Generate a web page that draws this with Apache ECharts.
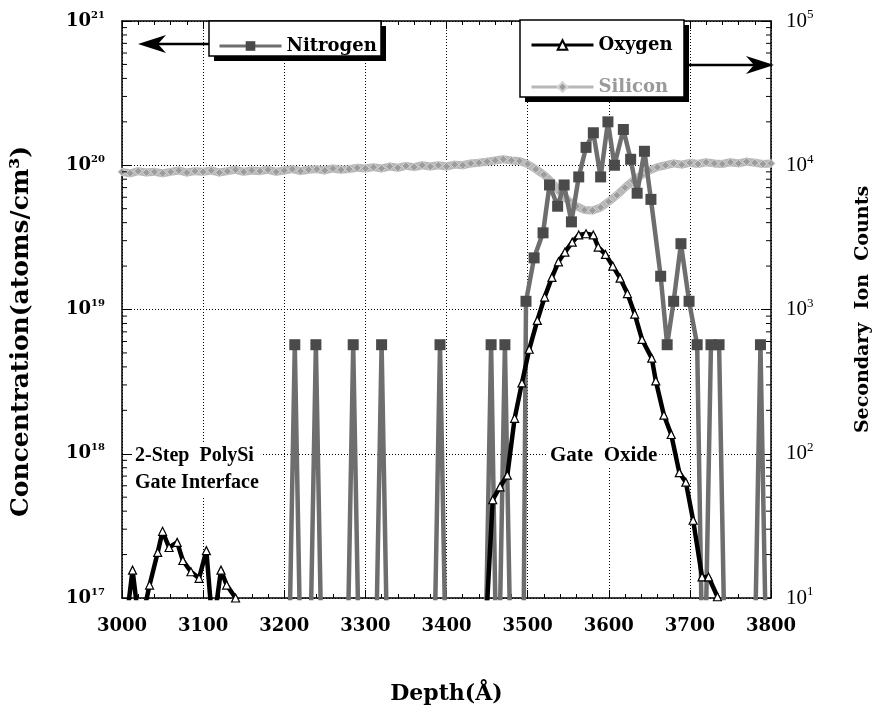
<!DOCTYPE html>
<html>
<head>
<meta charset="utf-8">
<script src="https://cdn.jsdelivr.net/npm/echarts@6/dist/echarts.min.js"></script>
<style>html,body{margin:0;padding:0;background:#fff;}#c{width:881px;height:710px;}</style>
</head>
<body>
<div id="c"></div>
<script>
// ---------- data ----------
const BELOW = 1e16; // below detection (plotted under the axis floor)
const depthTicks = [3000, 3100, 3200, 3300, 3400, 3500, 3600, 3700, 3800];
const concTicks = [1e17, 1e18, 1e19, 1e20, 1e21];
const countTicks = [1e1, 1e2, 1e3, 1e4, 1e5];

const nitrogenDepth = [3204, 3213, 3222, 3230, 3239, 3248, 3276, 3285, 3294, 3311, 3320, 3329,
  3383, 3392, 3401, 3446, 3455, 3463, 3472, 3481, 3494,
  3498, 3508, 3519, 3527, 3537, 3545, 3554, 3563, 3572, 3581, 3590, 3599, 3607, 3618, 3627,
  3635, 3644, 3652, 3664, 3672, 3680, 3689, 3699, 3709,
  3717, 3726, 3736, 3745, 3778, 3787, 3796];
const nitrogenConc = [BELOW, 5.7e18, BELOW, BELOW, 5.7e18, BELOW, BELOW, 5.7e18, BELOW, BELOW, 5.7e18, BELOW,
  BELOW, 5.7e18, BELOW, BELOW, 5.7e18, BELOW, 5.7e18, BELOW, BELOW,
  1.14e19, 2.28e19, 3.4e19, 7.3e19, 5.2e19, 7.3e19, 4.05e19, 8.3e19, 1.33e20, 1.68e20, 8.3e19, 2.0e20, 1.0e20, 1.77e20, 1.1e20,
  6.4e19, 1.25e20, 5.8e19, 1.7e19, 5.7e18, 1.14e19, 2.86e19, 1.14e19, 5.7e18,
  BELOW, 5.7e18, 5.7e18, BELOW, BELOW, 5.7e18, BELOW];

const oxygenDepth = [3004, 3013, 3022, 3034, 3044, 3050, 3058, 3068, 3075, 3085, 3095, 3104, 3112, 3122, 3129, 3140, 3149,
  3441, 3450, 3457, 3466, 3475, 3484, 3493, 3502, 3512, 3521, 3530, 3538, 3546, 3555, 3563, 3572, 3581, 3587,
  3596, 3605, 3614, 3623, 3632, 3641, 3653, 3658, 3668, 3677, 3687, 3695, 3704, 3715, 3723, 3734, 3743];
const oxygenConc = [6e16, 1.56e17, 6e16, 1.23e17, 2.07e17, 2.9e17, 2.24e17, 2.43e17, 1.82e17, 1.52e17, 1.37e17, 2.13e17, 6e16, 1.56e17, 1.23e17, 1.0e17, 6e16,
  3e16, 9e16, 4.8e17, 5.9e17, 7.1e17, 1.76e18, 3.1e18, 5.3e18, 8.4e18, 1.22e19, 1.67e19, 2.14e19, 2.5e19, 2.93e19, 3.29e19, 3.35e19, 3.29e19, 2.71e19,
  2.41e19, 2.0e19, 1.65e19, 1.29e19, 9.3e18, 6.2e18, 4.6e18, 3.2e18, 1.85e18, 1.36e18, 7.4e17, 6.35e17, 3.46e17, 1.4e17, 1.4e17, 1.02e17, 6e16];

const siliconDepth = [3000, 3010, 3020, 3030, 3040, 3050, 3060, 3070, 3080, 3090,
  3100, 3110, 3120, 3130, 3140, 3150, 3160, 3170, 3180, 3190,
  3200, 3210, 3220, 3230, 3240, 3250, 3260, 3270, 3280, 3290,
  3300, 3310, 3320, 3330, 3340, 3350, 3360, 3370, 3380, 3390,
  3400, 3410, 3420, 3430, 3440, 3450, 3460, 3470, 3480, 3490,
  3500, 3510, 3520, 3530, 3540, 3550, 3560, 3570, 3580, 3590,
  3600, 3610, 3620, 3630, 3640, 3650, 3660, 3670, 3680, 3690,
  3700, 3710, 3720, 3730, 3740, 3750, 3760, 3770, 3780, 3790, 3800];
const siliconCounts = [9.0e3, 8.8e3, 9.1e3, 8.9e3, 9.0e3, 8.8e3, 9.0e3, 9.2e3, 8.9e3, 9.1e3,
  9.0e3, 9.2e3, 8.9e3, 9.1e3, 9.3e3, 9.0e3, 9.2e3, 9.1e3, 9.3e3, 9.0e3,
  9.2e3, 9.4e3, 9.1e3, 9.3e3, 9.4e3, 9.2e3, 9.5e3, 9.3e3, 9.4e3, 9.6e3,
  9.5e3, 9.7e3, 9.5e3, 9.8e3, 9.6e3, 9.9e3, 9.7e3, 1.0e4, 9.8e3, 1.0e4,
  9.8e3, 1.01e4, 1.0e4, 1.03e4, 1.04e4, 1.06e4, 1.08e4, 1.1e4, 1.08e4, 1.07e4,
  1.02e4, 9.4e3, 8.6e3, 7.6e3, 6.5e3, 5.7e3, 5.2e3, 4.9e3, 4.85e3, 5.1e3,
  5.6e3, 6.2e3, 7.0e3, 7.8e3, 8.5e3, 9.2e3, 9.7e3, 1.0e4, 1.03e4, 1.01e4,
  1.04e4, 1.02e4, 1.05e4, 1.03e4, 1.02e4, 1.05e4, 1.03e4, 1.06e4, 1.04e4, 1.02e4, 1.03e4];

// ---------- helpers ----------
const zip = (a, b) => a.map((v, i) => [v, b[i]]);
const minorLogVals = [];
for (let i = 0; i < concTicks.length - 1; i++) for (let k = 2; k <= 9; k++) minorLogVals.push(k * concTicks[i]);

const SERIF_B = 'DejaVu Serif';
const chart = echarts.init(document.getElementById('c'), null, {renderer: 'canvas'});
const G = {left: 122, right: 102, top: 21, bottom: 100};

const supLabel = (fam, fs, ss, weight) => ({
  formatter: v => '{b|10}{s|' + Math.round(Math.log10(v)) + '}',
  rich: {
    b: {fontFamily: fam, fontWeight: weight, fontSize: fs, color: '#000', lineHeight: fs + 4},
    s: {fontFamily: fam, fontWeight: weight, fontSize: ss, color: '#000', verticalAlign: 'top', lineHeight: ss + 2}
  }
});

const legendText = {fontFamily: SERIF_B, fontWeight: 'bold', fontSize: 18, color: '#000'};

const option = {
  animation: false,
  backgroundColor: '#fff',
  grid: G,
  legend: [
    {data: [{name: 'Nitrogen', lineStyle: {width: 3}}], left: 213, top: 32, itemWidth: 62, itemHeight: 12, itemGap: 10, z: 60,
      textStyle: legendText, selectedMode: false},
    {data: [{name: 'Oxygen', lineStyle: {width: 3}}, {name: 'Silicon', lineStyle: {width: 3}, textStyle: {color: '#9a9a9a'}}],
      left: 525, top: 31, orient: 'vertical',
      itemWidth: 62, itemHeight: 12, itemGap: 24, z: 60, textStyle: legendText, selectedMode: false}
  ],
  xAxis: [
    {type: 'value', min: depthTicks[0], max: depthTicks[depthTicks.length - 1], interval: 100,
      name: 'Depth(Å)', nameLocation: 'middle', nameGap: 85,
      nameTextStyle: {fontFamily: SERIF_B, fontWeight: 'bold', fontSize: 22, color: '#000'},
      axisLine: {lineStyle: {color: '#000', width: 1.5}},
      axisTick: {inside: true, length: 8, lineStyle: {color: '#000'}},
      minorTick: {show: true, splitNumber: 5, length: 4, lineStyle: {color: '#000'}},
      axisLabel: {margin: 19, fontFamily: SERIF_B, fontWeight: 'bold', fontSize: 18, color: '#000', formatter: v => String(v)},
      splitLine: {show: true, lineStyle: {color: '#000', type: [1, 2], width: 1}}
    },
    {type: 'value', position: 'top', min: depthTicks[0], max: depthTicks[depthTicks.length - 1], interval: 100,
      axisLine: {lineStyle: {color: '#000', width: 1.5}},
      axisTick: {inside: true, length: 8, lineStyle: {color: '#000'}},
      minorTick: {show: true, splitNumber: 5, length: 4, lineStyle: {color: '#000'}},
      axisLabel: {show: false}, splitLine: {show: false}
    }
  ],
  yAxis: [
    {type: 'log', logBase: 10, min: concTicks[0], max: concTicks[concTicks.length - 1], splitNumber: 4,
      name: 'Concentration(atoms/cm³)', nameLocation: 'middle', nameGap: 88, nameRotate: 90,
      nameTextStyle: {fontFamily: SERIF_B, fontWeight: 'bold', fontSize: 25, color: '#000', padding: [0, 44, 0, 0]},
      axisLine: {lineStyle: {color: '#000', width: 1.5}},
      axisTick: {inside: true, length: 10, lineStyle: {color: '#000'}},
      axisLabel: Object.assign({margin: 17}, supLabel(SERIF_B, 18, 10, 'bold')),
      splitLine: {show: true, lineStyle: {color: '#000', type: [1, 2], width: 1}}
    },
    {type: 'log', logBase: 10, min: countTicks[0], max: countTicks[countTicks.length - 1], splitNumber: 4, position: 'right',
      name: 'Secondary  Ion  Counts', nameLocation: 'middle', nameGap: 83, nameRotate: 90,
      nameTextStyle: {fontFamily: SERIF_B, fontWeight: 'bold', fontSize: 19, color: '#000'},
      axisLine: {lineStyle: {color: '#000', width: 1.5}},
      axisTick: {inside: true, length: 10, lineStyle: {color: '#000'}},
      axisLabel: Object.assign({margin: 15}, supLabel('Liberation Serif', 21, 13, 'normal')),
      splitLine: {show: false}
    }
  ],
  series: [
    {type: 'custom', name: 'minor-log-ticks', silent: true, clip: false, z: 5,
      data: minorLogVals.map(v => [depthTicks[0], v]),
      renderItem: (params, api) => {
        const v = api.value(1);
        const L = api.coord([depthTicks[0], v]);
        const R = api.coord([depthTicks[depthTicks.length - 1], v]);
        return {type: 'group', children: [
          {type: 'line', shape: {x1: L[0], y1: L[1], x2: L[0] + 5, y2: L[1]}, style: {stroke: '#000', lineWidth: 1}},
          {type: 'line', shape: {x1: R[0] - 5, y1: R[1], x2: R[0], y2: R[1]}, style: {stroke: '#000', lineWidth: 1}}
        ]};
      }
    },
    {type: 'line', name: 'Silicon', yAxisIndex: 1, data: zip(siliconDepth, siliconCounts), z: 2,
      symbol: 'diamond', symbolSize: 8, showAllSymbol: true,
      lineStyle: {color: '#b8b8b8', width: 8}, itemStyle: {color: '#9c9c9c', borderColor: '#d4d4d4', borderWidth: 1}, color: '#a8a8a8'},
    {type: 'line', name: 'Nitrogen', data: zip(nitrogenDepth, nitrogenConc), z: 3,
      symbol: 'rect', symbolSize: 11, showAllSymbol: true,
      lineStyle: {color: '#6e6e6e', width: 4.5}, itemStyle: {color: '#4a4a4a'}, color: '#4a4a4a'},
    {type: 'line', name: 'Oxygen', data: zip(oxygenDepth, oxygenConc), z: 4,
      symbol: 'triangle', symbolSize: 8, showAllSymbol: true,
      lineStyle: {color: '#000', width: 4.5}, itemStyle: {color: '#fff', borderColor: '#000', borderWidth: 1.2}, color: '#000'}
  ],
  graphic: [
    // legend boxes with drop shadows
    {type: 'rect', z: 50, shape: {x: 214, y: 26, width: 172, height: 35}, style: {fill: '#000'}},
    {type: 'rect', z: 51, shape: {x: 209, y: 21, width: 172, height: 35}, style: {fill: '#fff', stroke: '#000', lineWidth: 1.5}},
    {type: 'rect', z: 50, shape: {x: 525, y: 25, width: 164, height: 77}, style: {fill: '#000'}},
    {type: 'rect', z: 51, shape: {x: 520, y: 20, width: 164, height: 77}, style: {fill: '#fff', stroke: '#000', lineWidth: 1.5}},
    // arrows
    {type: 'line', z: 52, shape: {x1: 209, y1: 44, x2: 150, y2: 44}, style: {stroke: '#000', lineWidth: 2.5}},
    {type: 'polygon', z: 52, shape: {points: [[138, 44], [166, 35], [158, 44], [166, 53]]}, style: {fill: '#000'}},
    {type: 'line', z: 52, shape: {x1: 689, y1: 65, x2: 760, y2: 65}, style: {stroke: '#000', lineWidth: 2.5}},
    {type: 'polygon', z: 52, shape: {points: [[774, 65], [746, 56], [754, 65], [746, 74]]}, style: {fill: '#000'}},
    // annotations
    {type: 'text', z: 40, left: 133, top: 442, style: {text: '2-Step  PolySi\nGate Interface', font: 'bold 20px "Liberation Serif"', fill: '#000', lineHeight: 27, backgroundColor: '#fff', padding: [0, 2, 0, 2]}},
    {type: 'text', z: 40, left: 548, top: 444, style: {text: 'Gate  Oxide', font: 'bold 21px "Liberation Serif"', fill: '#000', backgroundColor: '#fff', padding: [1, 2, 1, 2]}}
  ]
};
chart.setOption(option);
</script>
</body>
</html>
